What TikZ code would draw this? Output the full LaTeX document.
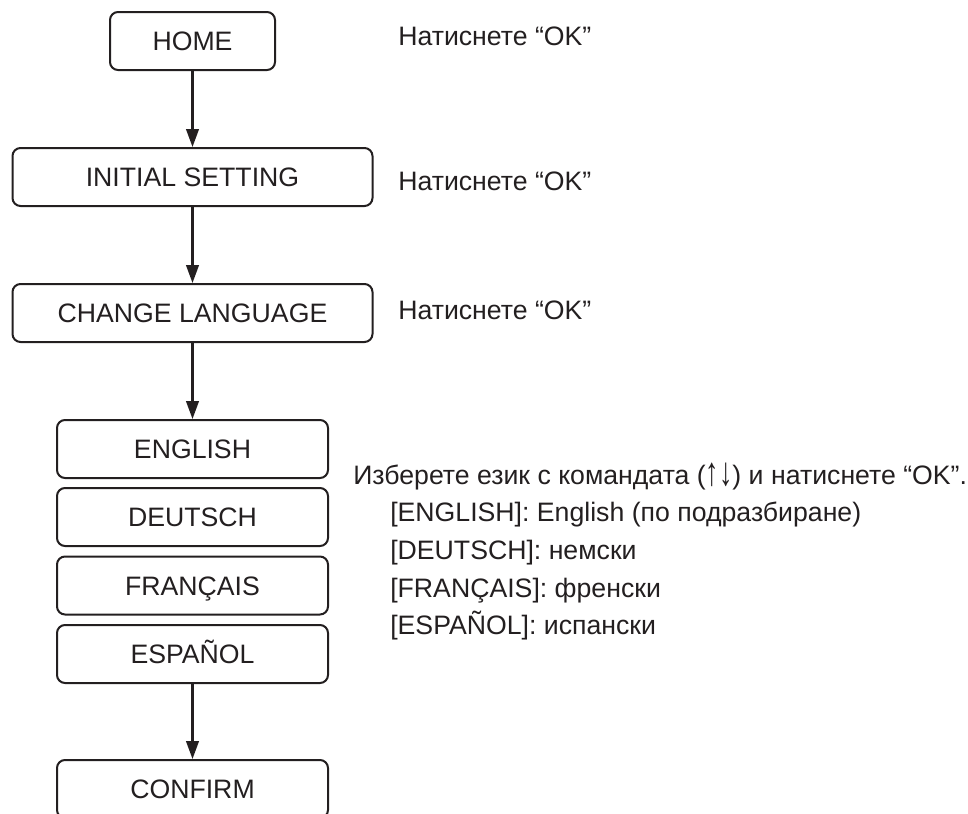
\documentclass[tikz,border=0pt]{standalone}
\usepackage{fontspec}
\setmainfont{Liberation Sans}
\usetikzlibrary{arrows.meta}
\definecolor{ink}{HTML}{231F20}
\begin{document}
\begin{tikzpicture}[x=0.75pt,y=-0.75pt,
  box/.style={draw=ink, line width=1.5pt, rounded corners=6pt, minimum height=43.5pt,
    inner sep=0pt, text=ink, font=\fontsize{20}{24}\selectfont, text height=14.3pt, text depth=0pt},
  conn/.style={draw=ink, line width=1.6pt, -{Triangle[length=13.5pt,width=9.5pt]}},
  note/.style={anchor=base west, inner sep=0pt, text=ink, font=\fontsize{20}{24}\selectfont}]
\clip (0,0) rectangle (968,814);
\node[box, minimum width=123.75pt] (home) at (192.5,41) {HOME};
\node[box, minimum width=270pt] (init) at (192.5,177) {INITIAL SETTING};
\node[box, minimum width=270pt] (chg) at (192.5,313) {CHANGE LANGUAGE};
\node[box, minimum width=203.25pt] (en) at (192.5,449) {ENGLISH};
\node[box, minimum width=203.25pt] (de) at (192.5,517) {DEUTSCH};
\node[box, minimum width=203.25pt] (fr) at (192.5,585.5) {FRANÇAIS};
\node[box, minimum width=203.25pt] (es) at (192.5,654) {ESPAÑOL};
\node[box, minimum width=203.25pt] (conf) at (192.5,789) {CONFIRM};
\draw[conn] (home.south) -- (init.north);
\draw[conn] (init.south) -- (chg.north);
\draw[conn] (chg.south) -- (en.north);
\draw[conn] (es.south) -- (conf.north);
\node[note] (n1) at (398,45) {Натиснете “OK”};
\node[note] (n2) at (398,190) {Натиснете “OK”};
\node[note] (n3) at (398,319) {Натиснете “OK”};
\node[note] (t0) at (353,484) {Изберете език с командата (\raisebox{-1pt}{\scalebox{1}[1.5]{↑↓}}) и натиснете “OK”.};
\node[note] (t1) at (390,521.5) {[ENGLISH]: English (по подразбиране)};
\node[note] (t2) at (390,559) {[DEUTSCH]: немски};
\node[note] (t3) at (390,597) {[FRANÇAIS]: френски};
\node[note] (t4) at (390,634.5) {[ESPAÑOL]: испански};
\end{tikzpicture}
\end{document}
